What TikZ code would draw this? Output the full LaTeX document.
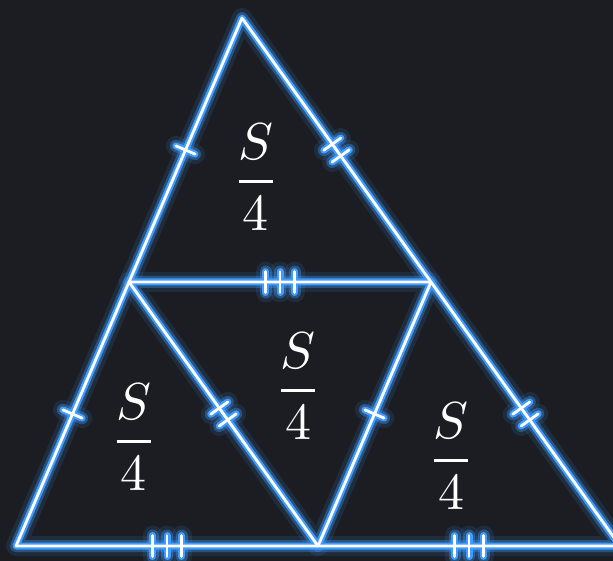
\documentclass[tikz,border=0pt]{standalone}
\usepackage{amsmath}
\usepackage{graphicx}
\usetikzlibrary{calc}
\definecolor{bgdark}{RGB}{27,29,34}
\definecolor{glowblue}{RGB}{64,156,255}
\tikzset{
  halo/.style = {draw=glowblue, line cap=round, line join=round,
                 preaction={draw=glowblue, opacity=0.12, line width=20pt,
                            line cap=round, line join=round},
                 opacity=0.35, line width=12pt},
  band/.style = {draw=glowblue, line width=7pt, line cap=round, line join=round},
  core/.style = {draw=white, line width=2.8pt, line cap=round, line join=round},
  area/.style = {text=white, inner sep=0pt}
}
\newcommand{\quarter}{\scalebox{5.2}{$\dfrac{S}{4}$}}
% hash marks at the middle of a segment: style, from, to, count
\newcommand{\hashmarks}[4]{%
  \foreach \k in {1,...,#4}{
    \pgfmathsetmacro{\off}{(\k-(#4+1)/2)*14.5}
    \coordinate (tk) at ($(#2)!0.5!(#3)!\off pt!(#3)$);
    \draw[#1] ($(tk)!10.5pt!90:(#3)$) -- ($(tk)!10.5pt!-90:(#3)$);
  }}
% whole figure drawn in one style
\newcommand{\network}[1]{%
  \draw[#1] (A) -- (B) -- (C) -- cycle;
  \draw[#1] (Mab) -- (Mac) -- (Mbc) -- cycle;
  \hashmarks{#1}{A}{Mab}{1}
  \hashmarks{#1}{Mab}{B}{1}
  \hashmarks{#1}{Mac}{Mbc}{1}
  \hashmarks{#1}{A}{Mac}{2}
  \hashmarks{#1}{Mac}{C}{2}
  \hashmarks{#1}{Mab}{Mbc}{2}
  \hashmarks{#1}{Mab}{Mac}{3}
  \hashmarks{#1}{B}{Mbc}{3}
  \hashmarks{#1}{Mbc}{C}{3}
}

\begin{document}
\begin{tikzpicture}[x=1pt, y=-1pt]
  \fill[bgdark] (0,0) rectangle (613,561);
  \useasboundingbox (0,0) rectangle (613,561);
  \clip (0,0) rectangle (613,561);

  \coordinate (A) at (242,18);
  \coordinate (B) at (16,546);
  \coordinate (C) at (620,546);
  \coordinate (Mab) at ($(A)!0.5!(B)$);
  \coordinate (Mac) at ($(A)!0.5!(C)$);
  \coordinate (Mbc) at ($(B)!0.5!(C)$);

  \network{halo}
  \network{band}
  \network{core}

  \node[area] (top) at (256,177) {\quarter};
  \node[area] (left) at (134,437) {\quarter};
  \node[area] (mid) at (298,386) {\quarter};
  \node[area] (right) at (451,456) {\quarter};
\end{tikzpicture}
\end{document}
